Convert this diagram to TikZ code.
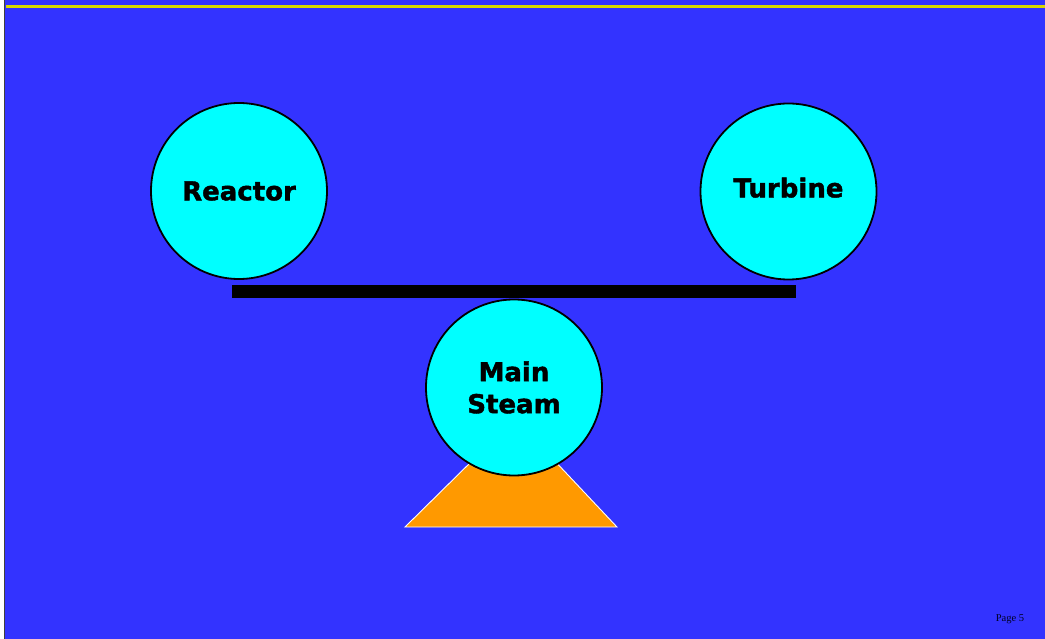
\documentclass[tikz,border=0pt]{standalone}
\usepackage{fontspec}
\setmainfont{DejaVu Sans}[BoldFeatures={FakeBold=1.6}]
\newfontfamily\pagefont{Liberation Serif}
\definecolor{bgblue}{HTML}{3333FF}
\definecolor{ballcyan}{HTML}{00FFFF}
\definecolor{baseorange}{HTML}{FF9900}
\definecolor{topyellow}{HTML}{D8D800}
\definecolor{edgegray}{HTML}{404040}
\begin{document}
\begin{tikzpicture}[x=1pt,y=-1pt,
  ball/.style={circle,draw=black,line width=1.8pt,fill=ballcyan,minimum size=176pt,inner sep=0pt,
    font=\fontsize{26}{32}\selectfont\bfseries,align=center,text=black}]
\useasboundingbox (0,0) rectangle (1045,639);
\fill[white] (0,0) rectangle (1045,639);
\fill[bgblue] (5,0) rectangle (1045,639);
\draw[edgegray,line width=1.2pt] (4.5,0) -- (4.5,639);
\draw[topyellow,line width=2.8pt] (6,6.3) -- (1045,6.3);
% base
\coordinate (bl) at (405,527);
\coordinate (br) at (617,527);
\coordinate (tl) at (475,458);
\coordinate (tr) at (552,458);
\filldraw[fill=baseorange,draw=white,line width=0.9pt] (bl) -- (tl) -- (tr) -- (br) -- cycle;
% bar
\fill[black] (232,285) rectangle (796,298);
% balls
\node[ball] (reactor) at (239,191) {Reactor};
\node[ball] (turbine) at (788.5,191.5) {\raisebox{8pt}{Turbine}};
\node[ball] (steam) at (514,387.5) {Main\\Steam};
\node[font=\pagefont\fontsize{10.5}{12}\selectfont,text=black!85!blue] (page) at (1010,619.5) {Page 5};
\end{tikzpicture}
\end{document}
